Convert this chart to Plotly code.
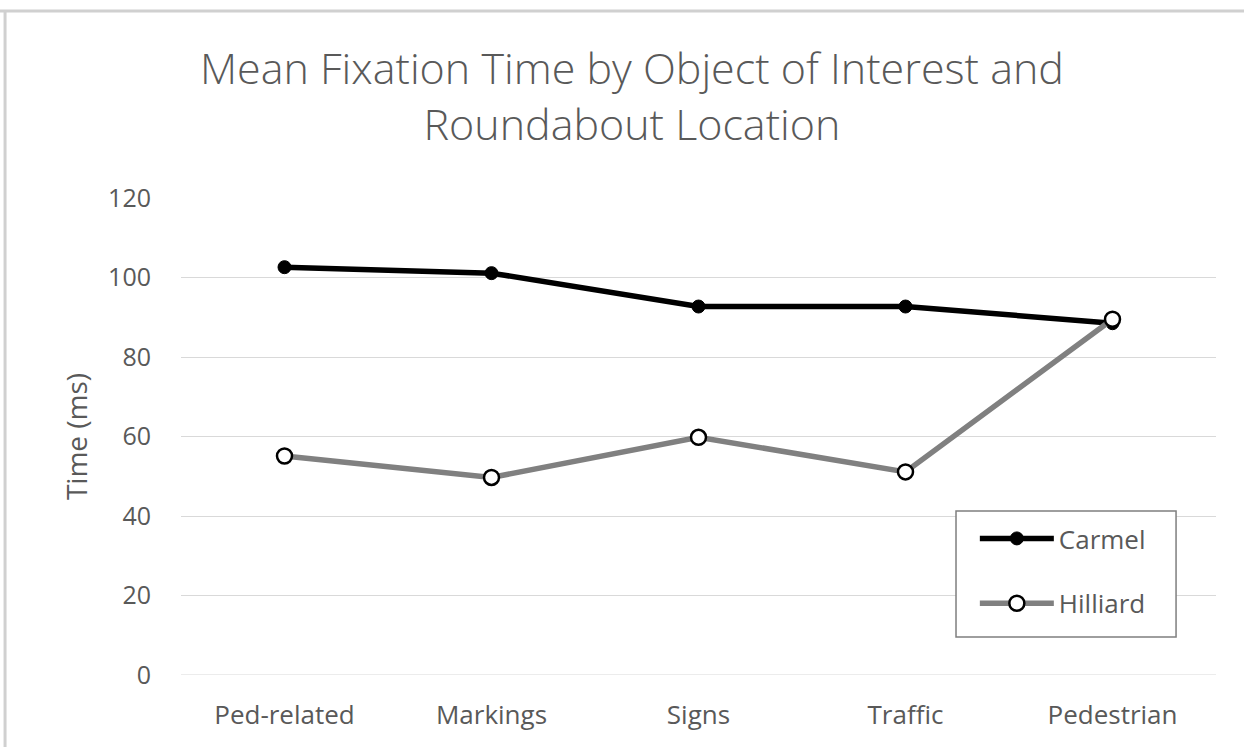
import plotly.graph_objects as go

categories = ["Ped-related", "Markings", "Signs", "Traffic", "Pedestrian"]
carmel = [102.6, 101.1, 92.7, 92.7, 88.5]
hilliard = [55.1, 49.7, 59.8, 51.1, 89.5]
y_ticks = [0, 20, 40, 60, 80, 100, 120]
title_text = "Mean Fixation Time by Object of Interest and<br>Roundabout Location"

FONT = "Open Sans"
GRAY_TXT = "#595959"

fig = go.Figure()
fig.add_trace(go.Scatter(
    x=categories, y=carmel, name="Carmel", mode="lines+markers",
    line=dict(color="black", width=5.5),
    marker=dict(color="black", size=13, line=dict(color="black", width=1)),
    legendgroup="a",
))
fig.add_trace(go.Scatter(
    x=categories, y=hilliard, name="Hilliard", mode="lines+markers",
    line=dict(color="#808080", width=5.5),
    marker=dict(color="white", size=15, line=dict(color="black", width=2.5)),
    legendgroup="b",
))

fig.update_layout(
    width=1244, height=747,
    paper_bgcolor="white", plot_bgcolor="white",
    margin=dict(l=181, r=28, t=198, b=72),
    title=dict(text=title_text, x=0.508, xanchor="center", y=0.888, yanchor="top",
               font=dict(family=FONT, size=43, color=GRAY_TXT, weight=300)),
    showlegend=True,
    legend=dict(x=0.767, y=0.3354, xanchor="left", yanchor="top",
                borderwidth=0, bgcolor="rgba(0,0,0,0)",
                font=dict(family=FONT, size=26, color=GRAY_TXT),
                tracegroupgap=28, itemwidth=74),
    xaxis=dict(type="category", range=[-0.5, 4.5], showgrid=False, showline=False,
               ticks="", tickfont=dict(family=FONT, size=26, color=GRAY_TXT),
               ticklabelstandoff=22, zeroline=False),
    yaxis=dict(range=[0, 120], tickvals=y_ticks, showgrid=True, gridcolor="#d9d9d9",
               gridwidth=1.2, zeroline=False, showline=False, ticks="",
               tickfont=dict(family=FONT, size=25, color=GRAY_TXT),
               ticklabelstandoff=29,
               title=dict(text="Time (ms)", font=dict(family=FONT, size=28, color=GRAY_TXT),
                          standoff=12)),
    shapes=[
        dict(type="line", xref="paper", yref="paper", x0=-0.175, x1=1.05, y0=1.392, y1=1.392,
             line=dict(color="#d0d0d0", width=3)),
        dict(type="line", xref="paper", yref="paper", x0=-0.170, x1=-0.170, y0=1.392, y1=-0.2,
             line=dict(color="#d0d0d0", width=3)),
        dict(type="rect", xref="paper", yref="paper", x0=0.7488, x1=0.9614, y0=0.0797, y1=0.3438,
             line=dict(color="#7f7f7f", width=1.5), fillcolor="white", layer="above"),
    ],
)
fig.add_hline(y=0, line=dict(color="#d9d9d9", width=1.2))

fig.write_html("out.html", post_script="document.body.style.margin='0';",
               config={"displayModeBar": False})
